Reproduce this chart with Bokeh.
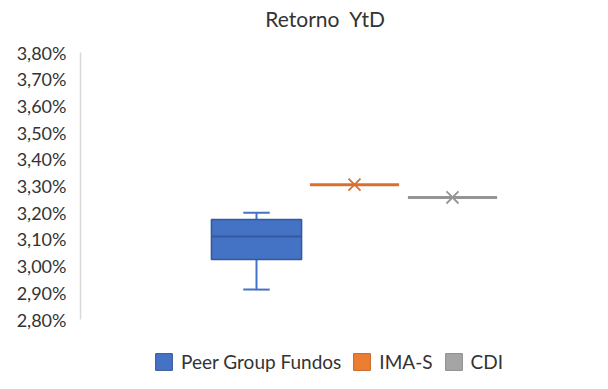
from bokeh.plotting import figure
from bokeh.models import Range1d, Label, Legend, LegendItem, FixedTicker
from bokeh.embed import file_html
from bokeh.resources import INLINE

# ---- data (values in %) ----
title_text = "Retorno\u00a0 YtD"
series = ["Peer Group Fundos", "IMA-S", "CDI"]
peer_min = 2.912
peer_q1 = 3.025
peer_median = 3.111
peer_q3 = 3.175
peer_max = 3.200
ima_s = [3.305]
cdi = [3.257]
tick_values = [2.80, 2.90, 3.00, 3.10, 3.20, 3.30, 3.40, 3.50, 3.60, 3.70, 3.80]
tick_labels = ["2,80%", "2,90%", "3,00%", "3,10%", "3,20%", "3,30%",
               "3,40%", "3,50%", "3,60%", "3,70%", "3,80%"]

# ---- layout (pixels inside the figure) ----
W, H = 592, 373
frame_left = 80
px_per_cat = 98.0
cat0_px = 256.0           # centre of first category (figure px)
y_top_px, y_bot_px = 52.0, 319.0   # pixel rows of 3.80% and 2.80%
px_per_unit = (y_bot_px - y_top_px) / (tick_values[-1] - tick_values[0])

x_start = 0 - (cat0_px - frame_left) / px_per_cat
x_end = x_start + (W - frame_left) / px_per_cat
y_end = tick_values[-1] + y_top_px / px_per_unit
y_start = tick_values[0] - (H - y_bot_px) / px_per_unit

def xd(px):
    return x_start + (px - frame_left) / px_per_cat

def yd(py):
    return y_end - py / px_per_unit

p = figure(width=W, height=H, output_backend="svg", toolbar_location=None,
           x_range=Range1d(x_start, x_end), y_range=Range1d(y_start, y_end),
           x_axis_location=None, min_border_left=frame_left, min_border_right=0,
           min_border_top=0, min_border_bottom=0)
p.outline_line_color = None
p.xgrid.visible = False
p.ygrid.visible = False
p.background_fill_color = "white"
p.border_fill_color = "white"

ax = p.yaxis[0]
ax.ticker = FixedTicker(ticks=tick_values)
ax.major_label_overrides = {t: l for t, l in zip(tick_values, tick_labels)}
ax.bounds = (tick_values[0], tick_values[-1])
ax.axis_line_color = "#D9D9D9"
ax.axis_line_width = 1.5
ax.major_tick_line_color = None
ax.minor_tick_line_color = None
ax.major_label_standoff = 8
ax.major_label_text_font = "Lato"
ax.major_label_text_font_size = "18px"
ax.major_label_text_color = "#333333"

blue, blue_dark = "#4472C4", "#35599A"
orange, orange_line = "#ED7D31", "#D9702E"
gray, gray_line = "#A5A5A5", "#959595"

cx = [0]
box_w = 0.92
cap_w = 0.27
# whiskers
p.segment(x0=cx, y0=[peer_q3], x1=cx, y1=[peer_max], line_color=blue, line_width=2)
p.segment(x0=cx, y0=[peer_q1], x1=cx, y1=[peer_min], line_color=blue, line_width=2)
p.segment(x0=[c - cap_w / 2 for c in cx], y0=[peer_max], x1=[c + cap_w / 2 for c in cx],
          y1=[peer_max], line_color=blue, line_width=2)
p.segment(x0=[c - cap_w / 2 for c in cx], y0=[peer_min], x1=[c + cap_w / 2 for c in cx],
          y1=[peer_min], line_color=blue, line_width=2)
box = p.vbar(x=cx, width=box_w, bottom=[peer_q1], top=[peer_q3], fill_color=blue,
             line_color=blue_dark, line_width=1.5)
p.segment(x0=[c - box_w / 2 for c in cx], y0=[peer_median], x1=[c + box_w / 2 for c in cx],
          y1=[peer_median], line_color=blue_dark, line_width=2)

line_w = 0.91
for i, (vals, lc) in enumerate([(ima_s, orange_line), (cdi, gray_line)], start=1):
    p.segment(x0=[i - line_w / 2], y0=vals, x1=[i + line_w / 2], y1=vals,
              line_color=lc, line_width=3)
    p.scatter(x=[i], y=vals, marker="x", size=17, line_color=lc, line_width=1.8)

# legend proxies (NaN data: drawn only in the legend)
nan = float("nan")
box_proxy = p.quad(left=[nan], right=[nan], top=[nan], bottom=[nan],
                   fill_color=blue, line_color=blue_dark)
r_ima = p.quad(left=[nan], right=[nan], top=[nan], bottom=[nan],
               fill_color=orange, line_color="#C8652A")
r_cdi = p.quad(left=[nan], right=[nan], top=[nan], bottom=[nan],
               fill_color=gray, line_color="#8C8C8C")

legend = Legend(items=[LegendItem(label=series[0], renderers=[box_proxy]),
                       LegendItem(label=series[1], renderers=[r_ima]),
                       LegendItem(label=series[2], renderers=[r_cdi])],
                orientation="horizontal", location=(73, 0))
legend.glyph_width = 21
legend.glyph_height = 21
legend.label_height = 21
legend.label_standoff = 7
legend.spacing = 10
legend.padding = 0
legend.margin = 0
legend.border_line_color = None
legend.background_fill_alpha = 0
legend.label_text_font = "Lato"
legend.label_text_font_size = "19px"
legend.label_text_color = "#333333"
p.add_layout(legend, "center")

p.add_layout(Label(x=xd(325), y=yd(18), text=title_text, text_align="center",
                   text_baseline="middle", text_font="Lato",
                   text_font_size="21px", text_color="#333333"))

open("out.html", "w").write(file_html(p, INLINE))
